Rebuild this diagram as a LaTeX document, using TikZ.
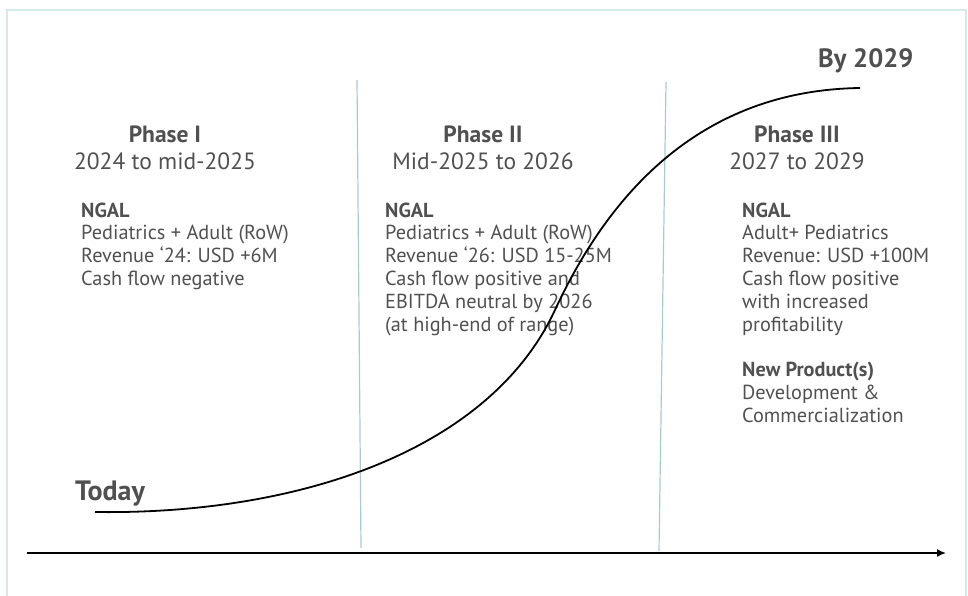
\documentclass[tikz,border=0pt]{standalone}
\usepackage{fontspec}
\setmainfont{PT Sans}
\usetikzlibrary{arrows.meta}
\definecolor{txtgray}{HTML}{505050}
\definecolor{divline}{HTML}{A9CBCF}
\definecolor{framecol}{HTML}{D3E9EB}

\begin{document}
\begin{tikzpicture}[x=1pt,y=-1pt,
    phasehead/.style={font=\fontsize{23.5}{27}\selectfont,text=txtgray,align=center,anchor=base,inner sep=0},
    phasebody/.style={font=\fontsize{20.3}{22.8}\selectfont,text=txtgray,align=left,anchor=base west,inner sep=0},
    marker/.style={font=\bfseries\fontsize{28}{30}\selectfont,text=txtgray,anchor=base west,inner sep=0},
    divider/.style={draw=divline,line width=1.2pt}]

    \useasboundingbox (0,0) rectangle (968,596);
    \draw[framecol,line width=2pt] (7,596) -- (7,10.5) -- (966,10.5) -- (966,596);

    \coordinate (d1top) at (357,80);
    \coordinate (d1bot) at (361,548);
    \coordinate (d2top) at (666,82);
    \coordinate (d2bot) at (659,551);
    \coordinate (axstart) at (27,553);
    \coordinate (axend) at (946,553);
    \coordinate (curvestart) at (95,512);
    \coordinate (curvemid) at (555,310);
    \coordinate (curveend) at (860,88);

    % base anchor sits on the last line
    \node[phasehead] (p1head) at (165,170) {\textbf{Phase I}\\2024 to mid-2025};
    \node[phasehead] (p2head) at (483,170) {\textbf{Phase II}\\Mid-2025 to 2026};
    \node[phasehead] (p3head) at (797,170) {\textbf{Phase III}\\2027 to 2029};

    \node[phasebody] (p1body) at (81,285.4) {\textbf{NGAL}\\Pediatrics + Adult (RoW)\\Revenue ‘24: USD +6M\\Cash flow negative};
    \node[phasebody] (p2body) at (385,331) {\textbf{NGAL}\\Pediatrics + Adult (RoW)\\Revenue ‘26: USD 15-25M\\Cash flow positive and\\EBITDA neutral by 2026\\(at high-end of range)};
    \node[phasebody] (p3body) at (742,422) {\textbf{NGAL}\\Adult+ Pediatrics\\Revenue: USD +100M\\Cash flow positive\\with increased\\profitability\\[22.5pt]\textbf{New Product(s)}\\Development \&\\Commercialization};

    \node[marker] (today) at (75,500) {Today};
    \node[marker,font=\bfseries\fontsize{26.5}{30}\selectfont] (by2029) at (818,68) {By 2029};

    \draw[divider] (d1top) -- (d1bot);
    \draw[divider] (d2top) -- (d2bot);
    \draw[line width=1.6pt,-{Latex[length=9pt,width=8pt]}] (axstart) -- (axend);
    \draw[line width=1.8pt] (curvestart) .. controls (300,515) and (490,450) .. (curvemid)
        .. controls (620,170) and (720,90) .. (curveend);
\end{tikzpicture}
\end{document}
